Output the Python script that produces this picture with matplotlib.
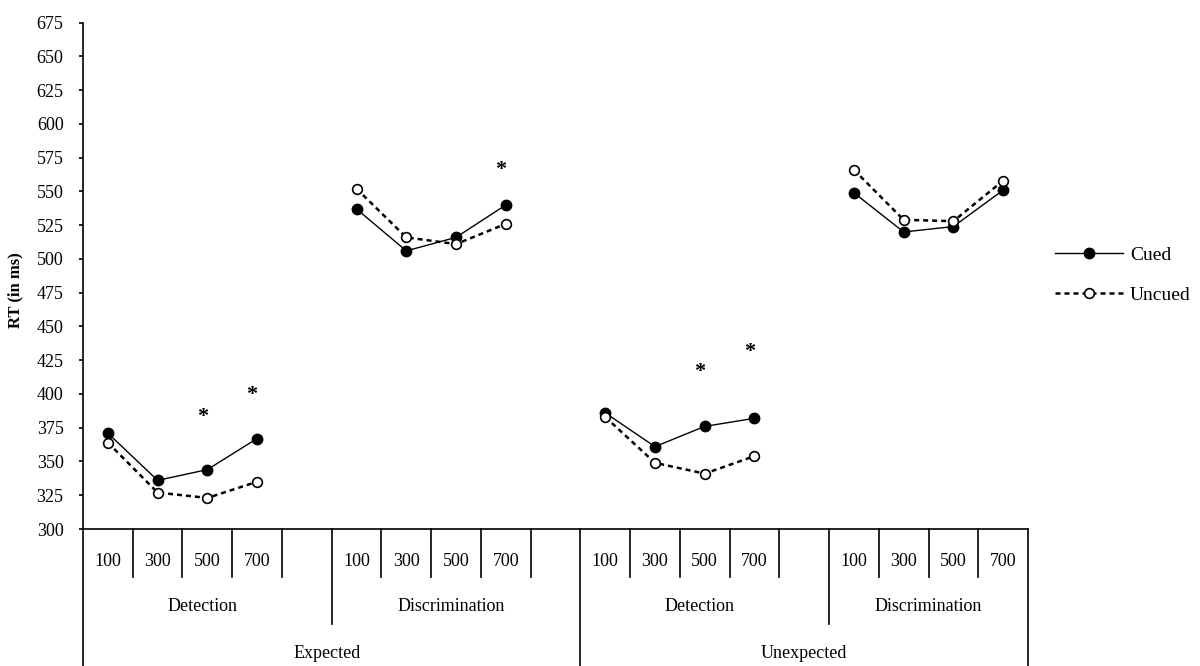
import numpy as np
import matplotlib
matplotlib.use('Agg')
import matplotlib.pyplot as plt
from matplotlib.transforms import blended_transform_factory

plt.rcParams['font.family'] = ['Liberation Serif', 'DejaVu Serif']

# category slots: 4 SOAs + a blank slot per block (last block has no blank)
soa_labels = ['100', '300', '500', '700', '',
              '100', '300', '500', '700', '',
              '100', '300', '500', '700', '',
              '100', '300', '500', '700']
task_labels = ['Detection', 'Discrimination', 'Detection', 'Discrimination']
cond_labels = ['Expected', 'Unexpected']

nan = np.nan
cued = [371, 336, 344, 367, nan,
        537, 506, 516, 540, nan,
        386, 361, 376, 382, nan,
        549, 520, 524, 551]
uncued = [364, 327, 323, 335, nan,
          552, 516, 511, 526, nan,
          383, 349, 341, 354, nan,
          566, 529, 528, 558]

star_idx = [2, 3, 8, 12, 13]
star_y = [383, 399, 566, 416, 431]

n = len(soa_labels)
x = np.arange(n) + 0.5

fig = plt.figure(figsize=(12, 6.66), dpi=100)
ax = fig.add_axes([83/1200, 1-529/666, (1028-83)/1200, (529-22.7)/666])

ax.plot(x, cued, color='black', lw=1.0, marker='o', ms=7.5,
        mfc='black', mec='black', label='Cued')
ax.plot(x, uncued, color='black', lw=1.8, ls=(0, (2, 1.6)), marker='o', ms=7,
        mfc='white', mec='black', mew=1.2, label='Uncued')

for i, yv in zip(star_idx, star_y):
    ax.text(x[i] - 0.1, yv, '*', ha='center', va='center', fontsize=16,
            fontweight='bold')

ax.set_xlim(0, n)
ax.set_ylim(300, 675)
ax.set_yticks(np.arange(300, 676, 25))
ax.tick_params(axis='y', direction='out', length=3, width=1.2, pad=11,
               labelsize=13)
ax.set_xticks([])
for s in ['top', 'right']:
    ax.spines[s].set_visible(False)
ax.spines['left'].set_linewidth(1.2)
ax.spines['bottom'].set_linewidth(1.2)

# category table below the axis
tr = blended_transform_factory(ax.transData, ax.transAxes)
y_soa, y_task, y_bot = -0.095, -0.187, -0.275
for b in range(0, n + 1):
    if b in (0, 10, 19):
        yb = y_bot
    elif b in (5, 15):
        yb = y_task
    else:
        yb = y_soa
    ax.plot([b, b], [0, yb], color='black', lw=1.2, transform=tr, clip_on=False)

for i, lab in enumerate(soa_labels):
    ax.text(x[i], -0.065, lab, transform=tr, ha='center', va='center',
            fontsize=13)
task_centers = [2.4, 7.4, 12.4, 17.0]
for c, lab in zip(task_centers, task_labels):
    ax.text(c, -0.154, lab, transform=tr, ha='center', va='center', fontsize=13)
for c, lab in zip([4.9, 14.5], cond_labels):
    ax.text(c, -0.245, lab, transform=tr, ha='center', va='center', fontsize=13)

fig.text(15/1200, 1-290/666, 'RT (in ms)', rotation=90, ha='center',
         va='center', fontsize=12, fontweight='bold')

fig.legend(loc='upper left', bbox_to_anchor=(1055/1200, 1-(257-11)/666),
           frameon=False, fontsize=14, handlelength=3.5, handletextpad=0.35,
           labelspacing=1.15, borderpad=0, borderaxespad=0)

fig.savefig('out.png', dpi=100)
